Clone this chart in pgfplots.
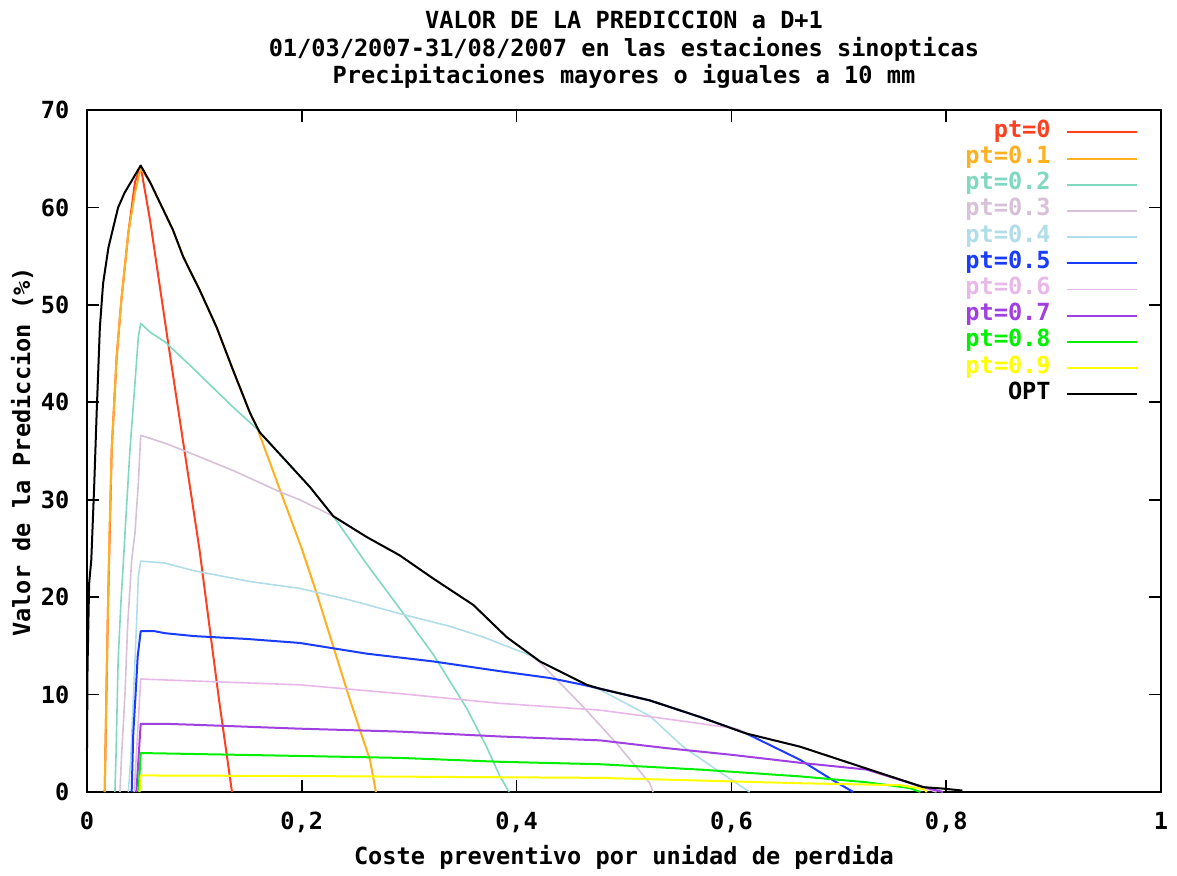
\documentclass[border=0pt]{standalone}
\usepackage{fontspec}
\setmainfont{DejaVu Sans Mono}
\usepackage{pgfplots}
\pgfplotsset{compat=1.18}

\definecolor{cred}{HTML}{FF4020}
\definecolor{corange}{HTML}{FFB020}
\definecolor{cteal}{HTML}{80D8C0}
\definecolor{cthistle}{HTML}{D8C0D8}
\definecolor{clblue}{HTML}{B0DDE8}
\definecolor{cblue}{HTML}{1A3CFF}
\definecolor{cpink}{HTML}{E8B8E8}
\definecolor{cpurple}{HTML}{A040E0}
\definecolor{cgreen}{HTML}{00F000}
\definecolor{cyellow}{HTML}{FFFF00}

\begin{document}
\fontsize{11.8}{13.75}\selectfont\bfseries
\begin{tikzpicture}
\begin{axis}[
  scale only axis, width=537pt, height=341pt,
  xmin=0, xmax=1, ymin=0, ymax=70,
  clip=false,
  axis line style={line width=1pt},
  xtick={0,0.2,0.4,0.6,0.8,1}, ytick={0,10,...,70},
  tick align=inside, major tick length=6pt,
  tick style={line width=0.8pt, black},
  /pgf/number format/assume math mode=true,
  /pgf/number format/use comma,
  xticklabel style={yshift=-6pt},
  yticklabel style={xshift=-4.7pt},
  title={VALOR DE LA PREDICCION a D+1\\01/03/2007-31/08/2007 en las estaciones sinopticas\\Precipitaciones mayores o iguales a 10 mm},
  title style={align=center, at={(axis description cs:0.5,1.128)}, anchor=north, inner sep=0pt,
               font=\fontsize{11.8}{13.75}\selectfont\bfseries},
  xlabel={Coste preventivo por unidad de perdida},
  ylabel={Valor de la Prediccion (\%)},
  xlabel style={at={(axis description cs:0.5,-0.0953)}, anchor=center},
  ylabel style={at={(axis description cs:-0.0605,0.4985)}, anchor=center},
  legend cell align=right, legend plot pos=right,
  legend image code/.code={\draw[#1] (0pt,0pt) -- (35pt,0pt);},
  legend style={at={(axis description cs:0.9786,0.987)}, anchor=north east,
                draw=none, fill=none, inner sep=0pt, column sep=7.5pt, row sep=0pt,
                nodes={inner sep=0pt, text height=9pt, text depth=4.1pt}},
  every axis plot/.append style={line join=round},
]
% pt=0
\addplot[cred, line width=1pt] coordinates {
  (0.0165,0) (0.0195,18.7) (0.023,35.1) (0.0276,44.6) (0.032,50.5) (0.0385,57.4)
  (0.0447,62.6) (0.05,64.2) (0.0587,58.7) (0.0757,46.0) (0.0897,35.8) (0.1046,25.0)
  (0.123,9.4) (0.135,0)
};
\addlegendentry{\textcolor{cred}{pt=0}}
% pt=0.1
\addplot[corange, line width=1pt] coordinates {
  (0.0165,0) (0.018,10) (0.0195,18.7) (0.0205,24) (0.021,27) (0.023,35.1) (0.0276,44.6)
  (0.032,50.5) (0.0385,57.4) (0.0447,61.5) (0.05,64.0) (0.0587,62.6) (0.080,57.7)
  (0.0897,54.9) (0.105,51.5) (0.1207,47.7) (0.136,43.3) (0.1518,38.9) (0.158,37.5)
  (0.1797,31.0) (0.1999,25.0) (0.2138,20.4) (0.2294,14.9) (0.245,9.4) (0.254,6.4)
  (0.2635,3.3) (0.269,0)
};
\addlegendentry{\textcolor{corange}{pt=0.1}}
% pt=0.2
\addplot[cteal, line width=0.8pt] coordinates {
  (0.026,0) (0.027,3.6) (0.029,13.5) (0.0317,19.7) (0.034,23.8) (0.0354,26.6)
  (0.040,35.1) (0.0447,42) (0.0478,46.7) (0.050,48.1) (0.0587,47.2) (0.0726,46.2)
  (0.0959,43.8) (0.136,39.5) (0.158,37.3) (0.161,36.9) (0.186,33.9) (0.2076,31.3)
  (0.2294,28.3) (0.2604,23.4) (0.2914,18.8) (0.3225,14.1) (0.3535,8.6) (0.372,4.65)
  (0.3845,1.6) (0.393,0)
};
\addlegendentry{\textcolor{cteal}{pt=0.2}}
% pt=0.3
\addplot[cthistle, line width=0.8pt] coordinates {
  (0.0307,0) (0.032,3.3) (0.0354,10.1) (0.0378,17) (0.0416,23.8) (0.0447,26.6)
  (0.0478,31.7) (0.050,36.6) (0.0587,36.3) (0.0726,35.8) (0.0959,34.8) (0.136,33.0)
  (0.1797,30.8) (0.198,30.0) (0.2294,28.3) (0.260,26.2) (0.291,24.3) (0.3225,21.9)
  (0.3597,19.2) (0.3907,15.9) (0.4218,13.3) (0.462,8.75) (0.493,5.0) (0.524,0.9)
  (0.527,0)
};
\addlegendentry{\textcolor{cthistle}{pt=0.3}}
% pt=0.4
\addplot[clblue, line width=0.8pt] coordinates {
  (0.0385,0) (0.0407,3.3) (0.0447,13.5) (0.0463,17.7) (0.0478,22.1) (0.050,23.7)
  (0.0726,23.5) (0.10,22.7) (0.152,21.6) (0.198,20.9) (0.245,19.7) (0.2914,18.3)
  (0.338,17.0) (0.369,15.9) (0.4156,13.9) (0.4218,13.4) (0.4653,11.0) (0.4777,10.5)
  (0.524,7.8) (0.555,4.65) (0.586,2.3) (0.617,0)
};
\addlegendentry{\textcolor{clblue}{pt=0.4}}
% pt=0.5
\addplot[cblue, line width=1pt] coordinates {
  (0.0416,0) (0.0431,6.0) (0.0453,10.1) (0.0472,13.9) (0.050,16.5) (0.0633,16.5)
  (0.0726,16.3) (0.10,16.0) (0.15,15.7) (0.198,15.3) (0.2604,14.2) (0.3225,13.4)
  (0.3845,12.4) (0.431,11.7) (0.462,11.0) (0.4777,10.6) (0.524,9.4) (0.5708,7.7)
  (0.614,6.0) (0.664,3.3) (0.6946,1.2) (0.7135,0)
};
\addlegendentry{\textcolor{cblue}{pt=0.5}}
% pt=0.6
\addplot[cpink, line width=0.8pt] coordinates {
  (0.044,0) (0.05,11.6) (0.0726,11.5) (0.198,11.0) (0.2914,10.1) (0.3845,9.1)
  (0.4777,8.4) (0.5397,7.5) (0.605,6.5) (0.614,6.0) (0.664,4.65) (0.726,2.4)
  (0.766,0.9) (0.791,0)
};
\addlegendentry{\textcolor{cpink}{pt=0.6}}
% pt=0.7
\addplot[cpurple, line width=1pt] coordinates {
  (0.046,0) (0.05,7.0) (0.0726,7.0) (0.10,6.9) (0.198,6.5) (0.2914,6.2) (0.3845,5.7)
  (0.4777,5.3) (0.5397,4.5) (0.6018,3.8) (0.664,3.0) (0.726,2.3) (0.7787,0.5)
  (0.797,0)
};
\addlegendentry{\textcolor{cpurple}{pt=0.7}}
% pt=0.8
\addplot[cgreen, line width=1pt] coordinates {
  (0.048,0) (0.05,4.0) (0.10,3.9) (0.198,3.7) (0.2914,3.5) (0.3845,3.1) (0.4777,2.85)
  (0.5708,2.3) (0.664,1.6) (0.726,1.0) (0.766,0.4) (0.776,0)
};
\addlegendentry{\textcolor{cgreen}{pt=0.8}}
% pt=0.9
\addplot[cyellow, line width=1pt] coordinates {
  (0.049,0) (0.05,1.7) (0.198,1.64) (0.4777,1.45) (0.664,0.9) (0.757,0.7)
  (0.779,0.3) (0.782,0)
};
\addlegendentry{\textcolor{cyellow}{pt=0.9}}
% OPT
\addplot[black, line width=1pt] coordinates {
  (0,4.3) (0.0005,12.8) (0.002,21.4) (0.004,23.8) (0.005,26.6) (0.0068,31.7)
  (0.009,38.9) (0.012,47.7) (0.015,52.2) (0.020,55.9) (0.029,60.0) (0.035,61.5)
  (0.050,64.3) (0.0587,62.6) (0.080,57.7) (0.0897,54.9) (0.105,51.5) (0.1207,47.7)
  (0.136,43.3) (0.1518,38.9) (0.158,37.5) (0.161,36.9) (0.186,33.9) (0.2076,31.3)
  (0.2294,28.3) (0.260,26.2) (0.291,24.3) (0.3225,21.9) (0.3597,19.2) (0.3907,15.9)
  (0.4218,13.4) (0.4653,11.0) (0.4777,10.6) (0.524,9.4) (0.5708,7.7) (0.614,6.0)
  (0.664,4.65) (0.726,2.4) (0.7787,0.5) (0.797,0.35) (0.815,0.15)
};
\addlegendentry{OPT}
\coordinate (bbsw) at (axis description cs:-0.081,-0.1217);
\coordinate (bbne) at (axis description cs:1.0149,1.1613);
\end{axis}
\pgfresetboundingbox
\path[use as bounding box] (bbsw) rectangle (bbne);
\end{tikzpicture}
\end{document}
